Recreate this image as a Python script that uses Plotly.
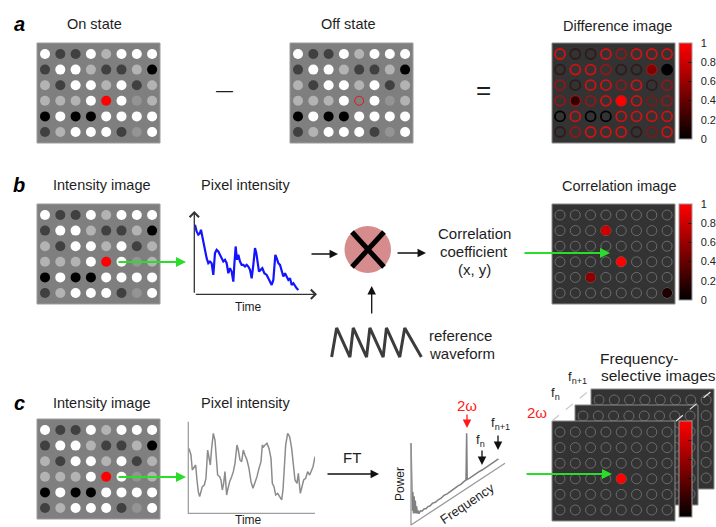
import plotly.graph_objects as go

W, H = 716, 527
FONT = "Liberation Sans, Arial, sans-serif"
TEXT = "#1e1e1e"

# ---------------------------------------------------------------- data
# 6 x 8 array of emitter intensities (0 = black, 1 = white)
ON_STATE = [
    [1.00, 0.25, 0.25, 1.00, 0.70, 1.00, 1.00, 1.00],
    [0.25, 1.00, 1.00, 0.70, 0.25, 0.25, 0.70, 0.00],
    [0.70, 0.25, 1.00, 1.00, 0.70, 1.00, 0.25, 0.70],
    [0.70, 0.70, 0.70, 1.00, 1.00, 1.00, 0.58, 0.70],
    [0.00, 1.00, 0.00, 0.00, 1.00, 1.00, 1.00, 1.00],
    [0.25, 0.70, 1.00, 1.00, 1.00, 0.25, 0.58, 1.00],
]
SEL_ROW, SEL_COL = 3, 4          # the switchable (red) emitter

# filled pixels of the difference image
DIFF_ROWS = [1, 1, 3, 3]
DIFF_COLS = [6, 7, 1, 4]
DIFF_VALS = [0.50, 0.00, 0.20, 1.00]

# filled pixels of the correlation image
CORR_ROWS = [1, 3, 4, 5]
CORR_COLS = [3, 4, 2, 7]
CORR_VALS = [0.80, 1.00, 0.55, 0.12]

# filled pixels of the 2-omega frequency image
FREQ_ROWS = [3]
FREQ_COLS = [4]
FREQ_VALS = [1.00]

CBAR_TICKS = [0, 0.2, 0.4, 0.6, 0.8, 1]
CBAR_LABELS = ["0", "0.2", "0.4", "0.6", "0.8", "1"]

# decaying pixel trace (panel b)
BLUE_T = [2, 7, 12, 17, 20, 24, 27, 32, 37, 42, 47, 52, 57, 62, 67, 72, 77, 82, 87, 92,
          97, 102, 107, 112, 117, 120, 124, 128, 132, 137, 142, 147, 152, 157, 162, 167,
          172, 177, 182, 186, 190, 194, 199, 204, 210, 217, 222, 227, 232, 237, 240, 243,
          247, 252, 257, 262, 267, 272, 277, 282, 287, 292, 297, 302, 307, 312]
BLUE_I = [208, 188, 178, 183, 193, 173, 148, 133, 108, 93, 98, 93, 58, 123, 133, 128, 118,
          108, 98, 103, 93, 63, 78, 68, 38, 88, 143, 103, 118, 98, 88, 88, 83, 88, 83, 73,
          48, 88, 138, 123, 98, 68, 73, 78, 63, 58, 48, 38, 28, 43, 78, 118, 108, 93, 88,
          73, 53, 63, 53, 43, 48, 28, 33, 23, 18, 13]

# oscillating pixel trace (panel c)
GRAY_T = [2, 8, 12, 18, 22, 26, 30, 34, 38, 42, 48, 53, 58, 62, 66, 70, 75, 80, 84, 88, 94,
          98, 102, 106, 110, 115, 118, 124, 130, 135, 140, 146, 150, 155, 160, 165, 170, 176,
          182, 188, 194, 200, 206, 212, 218, 222, 226, 230, 236, 242, 248, 252, 257, 262,
          268, 274, 280, 284, 288, 292, 298, 304, 310, 315, 320, 326, 330, 336, 340, 346,
          352, 358, 364, 368, 374, 380]
GRAY_I = [195, 175, 130, 140, 145, 100, 65, 50, 70, 80, 85, 105, 190, 170, 145, 195, 240,
          220, 165, 115, 110, 100, 70, 90, 125, 55, 70, 95, 110, 125, 150, 205, 190, 160,
          155, 190, 175, 160, 135, 95, 75, 90, 110, 135, 155, 205, 200, 205, 210, 195, 165,
          90, 80, 55, 60, 50, 40, 70, 125, 205, 240, 230, 195, 135, 100, 90, 120, 60, 80,
          100, 105, 125, 115, 125, 140, 170]

# sawtooth reference waveform
REF_T = [0, 15, 55, 65, 105, 115, 155, 165, 205, 220, 270]
REF_LEVEL = [0, 1, 0, 1, 0, 1, 0, 1, 0, 1, 0]

# Fourier power spectrum (frequency index, power)
SPEC_F = [0, 0.8, 1.5, 2.0, 2.6, 3.3, 4.0, 4.6, 5.3, 6.0, 6.7, 7.5, 8.5, 10, 12, 14, 16, 18,
          20, 23, 26, 29, 32, 35, 38, 41, 44, 47, 50, 53, 56, 58.5, 59.2, 59.8, 62, 65, 68,
          72, 76, 80, 84, 88, 93]
SPEC_P = [245, 120, 40, 95, 30, 80, 28, 65, 25, 45, 22, 30, 18, 24, 20, 23, 19, 22, 20, 23,
          20, 22, 21, 24, 22, 23, 24, 23, 25, 24, 26, 27, 166, 26, 25, 26, 25, 26, 25, 26,
          25, 26, 26]

# ---------------------------------------------------------------- layout constants
PW, PH = 123, 100                       # panel size
DX, DY = 15.3, 15.6                     # emitter pitch
OX, OY = 8, 11                          # first emitter offset inside a panel
GRAY_SCALE = [[0, "#000000"], [1, "#ffffff"]]
RED_SCALE = [[0, "#000000"], [1, "#ff0000"]]
RING_SCALE = [[0, "#000000"], [0.3, "#3a2020"], [1, "#d01212"]]
GREEN = "#2bdc2b"

fig = go.Figure()


def cell_xy(x0, y0, r, c):
    return x0 + OX + c * DX, y0 + OY + r * DY


def panel(x0, y0, fill, edge):
    fig.add_trace(go.Scatter(
        x=[x0, x0 + PW, x0 + PW, x0, x0], y=[y0, y0, y0 + PH, y0 + PH, y0],
        mode="lines", fill="toself", fillcolor=fill,
        line=dict(color=edge, width=1), hoverinfo="skip", showlegend=False))


def intensity_image(x0, y0, mark="dot"):
    panel(x0, y0, "#7f7f7f", "#9c9c9c")
    xs, ys, vs = [], [], []
    for r, row in enumerate(ON_STATE):
        for c, v in enumerate(row):
            if (r, c) == (SEL_ROW, SEL_COL):
                continue
            x, y = cell_xy(x0, y0, r, c)
            xs.append(x); ys.append(y); vs.append(v)
    fig.add_trace(go.Scatter(
        x=xs, y=ys, mode="markers", hoverinfo="skip", showlegend=False,
        marker=dict(size=10, color=vs, colorscale=GRAY_SCALE, cmin=0, cmax=1,
                    line=dict(width=0))))
    x, y = cell_xy(x0, y0, SEL_ROW, SEL_COL)
    if mark == "dot":
        m = dict(size=10, color="#ff0000", line=dict(width=0))
    else:
        m = dict(size=9, symbol="circle-open", color="#e01818", line=dict(width=1))
    fig.add_trace(go.Scatter(x=[x], y=[y], mode="markers", hoverinfo="skip",
                             showlegend=False, marker=m))


def rings(x0, y0, color, width, values=None):
    xs, ys, vs = [], [], []
    for r in range(len(ON_STATE)):
        for c in range(len(ON_STATE[0])):
            x, y = cell_xy(x0, y0, r, c)
            xs.append(x); ys.append(y)
            if values is not None:
                vs.append(values[r][c])
    if values is None:
        m = dict(size=10, symbol="circle-open", color=color, line=dict(width=width))
    else:
        m = dict(size=10, symbol="circle-open", color=vs, colorscale=RING_SCALE,
                 cmin=0, cmax=1, line=dict(width=width))
    fig.add_trace(go.Scatter(x=xs, y=ys, mode="markers", hoverinfo="skip",
                             showlegend=False, marker=m))


def colorbar(top, labels=True):
    return dict(x=679 / W, xanchor="left", xref="paper", y=1 - top / H, yanchor="top",
                yref="paper", len=96, lenmode="pixels", thickness=13,
                thicknessmode="pixels", xpad=0, ypad=0, outlinewidth=1,
                outlinecolor="#9a9a9a", ticks="inside", ticklen=4, tickwidth=1,
                tickcolor="#111111", tickvals=CBAR_TICKS,
                ticktext=["\u2002" + t for t in CBAR_LABELS],
                showticklabels=labels,
                tickfont=dict(family=FONT, size=11, color="#222222"))


def filled(x0, y0, rows, cols, vals, size, top, labels=True):
    xs, ys = [], []
    for r, c in zip(rows, cols):
        x, y = cell_xy(x0, y0, r, c)
        xs.append(x); ys.append(y)
    fig.add_trace(go.Scatter(
        x=xs, y=ys, mode="markers", hoverinfo="skip", showlegend=False,
        marker=dict(size=size, color=vals, colorscale=RED_SCALE, cmin=0, cmax=1,
                    line=dict(width=0), showscale=True,
                    colorbar=colorbar(top, labels))))


# ---------------------------------------------------------------- panel a
intensity_image(37, 43, "dot")
intensity_image(290, 43, "ring")
panel(552, 43, "#333333", "#8a8a8a")
rings(552, 43, None, 1.8, ON_STATE)
filled(552, 43, DIFF_ROWS, DIFF_COLS, DIFF_VALS, 9, 43)

# ---------------------------------------------------------------- panel b
intensity_image(37, 204, "dot")
panel(552, 204, "#333333", "#8a8a8a")
rings(552, 204, "#6c6c6c", 1)
filled(552, 204, CORR_ROWS, CORR_COLS, CORR_VALS, 10, 204)

fig.add_trace(go.Scatter(x=BLUE_T, y=BLUE_I, mode="lines", xaxis="x2", yaxis="y2",
                         line=dict(color="#1414ff", width=2.2), hoverinfo="skip",
                         showlegend=False))
fig.add_trace(go.Scatter(x=REF_T, y=REF_LEVEL, mode="lines", xaxis="x4", yaxis="y4",
                         line=dict(color="#3c3c3c", width=3), hoverinfo="skip",
                         showlegend=False))

# ---------------------------------------------------------------- panel c
intensity_image(37, 419, "dot")
fig.add_trace(go.Scatter(x=GRAY_T, y=GRAY_I, mode="lines", xaxis="x3", yaxis="y3",
                         line=dict(color="#8c8c8c", width=1.5), hoverinfo="skip",
                         showlegend=False))

# power spectrum drawn on a skewed frequency axis
S_X0, S_Y0 = 411, 525
S_FX, S_FY = 0.94, -0.617
S_P = 1 / 3
fig.add_trace(go.Scatter(
    x=[S_X0 + f * S_FX for f in SPEC_F],
    y=[S_Y0 + f * S_FY - p * S_P for f, p in zip(SPEC_F, SPEC_P)],
    mode="lines", line=dict(color="#808080", width=1.5), hoverinfo="skip",
    showlegend=False))
fig.add_trace(go.Scatter(
    x=[S_X0, S_X0, S_X0 + 100 * S_FX], y=[S_Y0 - 82, S_Y0, S_Y0 + 100 * S_FY],
    mode="lines", line=dict(color="#9a9a9a", width=1.3), hoverinfo="skip",
    showlegend=False))

# stack of frequency-selective images (back to front)
for px, py in [(591, 389), (575, 405)]:
    panel(px, py, "#333333", "#8a8a8a")
    rings(px, py, "#6c6c6c", 1)
panel(552, 421, "#333333", "#8a8a8a")
rings(552, 421, "#6c6c6c", 1)
filled(552, 421, FREQ_ROWS, FREQ_COLS, FREQ_VALS, 10, 421, labels=False)

fig.add_trace(go.Scatter(x=[552, 591], y=[421, 389], mode="lines", hoverinfo="skip",
                         line=dict(color="#c8c8c8", width=1.2, dash="dash"),
                         showlegend=False))
fig.add_trace(go.Scatter(x=[676, 714], y=[421, 389], mode="lines", hoverinfo="skip",
                         line=dict(color="#e6e6e6", width=1.2, dash="dash"),
                         showlegend=False))

# ---------------------------------------------------------------- shapes
shapes = [
    dict(type="circle", xref="x", yref="y", x0=344.5, x1=391, y0=226, y1=273,
         fillcolor="#d68c8c", line=dict(width=0)),
    dict(type="line", xref="x", yref="y", x0=352, y0=232, x1=384, y1=267,
         line=dict(color="#000000", width=5)),
    dict(type="line", xref="x", yref="y", x0=384, y0=232, x1=352, y1=267,
         line=dict(color="#000000", width=5)),
    dict(type="path", xref="x", yref="y", path="M188.3,421.7 L188.3,513.3 L315,513.3",
         line=dict(color="#a0a0a0", width=1.3)),
]


# ---------------------------------------------------------------- annotations
def label(x, y, text, size=15, color=TEXT, anchor="center", angle=0):
    return dict(x=x, y=y, xref="x", yref="y", text=text, showarrow=False,
                xanchor=anchor, yanchor="middle", textangle=angle,
                font=dict(family=FONT, size=size, color=color))


def arrow(x0, y0, x1, y1, color="#111111", width=1.3, head=2, size=1.3):
    return dict(x=x1, y=y1, ax=x0, ay=y0, xref="x", yref="y", axref="x", ayref="y",
                text="", showarrow=True, arrowhead=head, arrowsize=size,
                arrowwidth=width, arrowcolor=color, standoff=0, startstandoff=0,
                font=dict(family=FONT, size=10))


ann = [
    label(19, 24, "<b><i>a</i></b>", 20, "#000000"),
    label(19, 185, "<b><i>b</i></b>", 20, "#000000"),
    label(19, 403, "<b><i>c</i></b>", 20, "#000000"),
    label(94, 24, "On state", 14.5),
    label(348, 24, "Off state", 14.5),
    label(617, 26, "Difference image", 14.5),
    label(224, 90, "\u2014", 17),
    label(483, 90, "=", 26),
    label(102, 185, "Intensity image", 14.5),
    label(245, 185, "Pixel intensity", 14.5),
    label(248.5, 307, "Time", 12),
    label(474, 233, "Correlation", 15),
    label(474, 251, "coefficient", 15),
    label(474, 269, "(x, y)", 15),
    label(427, 335, "reference", 15, anchor="left"),
    label(427, 353, "waveform", 15, anchor="left"),
    label(619, 186, "Correlation image", 14.5),
    label(102, 403, "Intensity image", 14.5),
    label(245, 403, "Pixel intensity", 14.5),
    label(248.5, 520, "Time", 12),
    label(352, 457, "FT", 15),
    label(400, 484, "Power", 12, angle=-90),
    label(467, 503, "Frequency", 13, angle=-34),
    label(467, 405, "2\u03c9", 15, "#ff1a1a"),
    label(480, 440, "f<sub>n</sub>", 13),
    label(500, 423, "f<sub>n+1</sub>", 13),
    label(598, 358, "Frequency-", 15.5, anchor="left"),
    label(599, 375, "selective images", 15.5, anchor="left"),
    label(537, 412, "2\u03c9", 15, "#ff1a1a"),
    label(555, 393, "f<sub>n</sub>", 13),
    label(577, 377, "f<sub>n+1</sub>", 13),
    # green read-out arrows
    arrow(117, 262, 186, 262, GREEN, 2, 2, 1),
    arrow(523, 253, 610, 253, GREEN, 2, 2, 1),
    arrow(117, 477, 186, 477, GREEN, 2, 2, 1),
    arrow(525, 474, 612, 474, GREEN, 2, 2, 1),
    # pixel-intensity axes (panel b)
    arrow(194.3, 294.3, 194.3, 211, "#333333", 1.3, 4, 1.4),
    arrow(194.3, 294.3, 317, 294.3, "#333333", 1.3, 4, 1.4),
    # flow arrows
    arrow(310, 254, 338, 254),
    arrow(396, 253, 426, 253),
    arrow(371.7, 315, 371.7, 286),
    arrow(326, 474, 379, 474),
    arrow(467, 413, 467, 428, "#ff1a1a"),
    arrow(482, 449, 482, 465),
    arrow(498, 434, 498, 450),
]


def dom(lo, hi, total, flip=False):
    return [1 - hi / total, 1 - lo / total] if flip else [lo / total, hi / total]


hidden = dict(visible=False, fixedrange=True)
fig.update_layout(
    width=W, height=H,
    margin=dict(l=0, r=0, t=0, b=0, pad=0, autoexpand=False),
    paper_bgcolor="#ffffff", plot_bgcolor="rgba(0,0,0,0)", showlegend=False,
    xaxis=dict(range=[0, W], domain=[0, 1], **hidden),
    yaxis=dict(range=[H, 0], domain=[0, 1], **hidden),
    xaxis2=dict(range=[0, 367], domain=dom(194.3, 316.7, W), anchor="y2", **hidden),
    yaxis2=dict(range=[0, 243], domain=dom(213, 294.3, H, True), anchor="x2", **hidden),
    xaxis3=dict(range=[0, 380], domain=dom(188.3, 315, W), anchor="y3", **hidden),
    yaxis3=dict(range=[0, 275], domain=dom(421.7, 513.3, H, True), anchor="x3", **hidden),
    xaxis4=dict(range=[-5, 275], domain=dom(330, 423, W), anchor="y4", **hidden),
    yaxis4=dict(range=[-0.1, 1.1], domain=dom(325, 360, H, True), anchor="x4", **hidden),
    shapes=shapes, annotations=ann,
)

fig.write_html("out.html", config={"displayModeBar": False})
